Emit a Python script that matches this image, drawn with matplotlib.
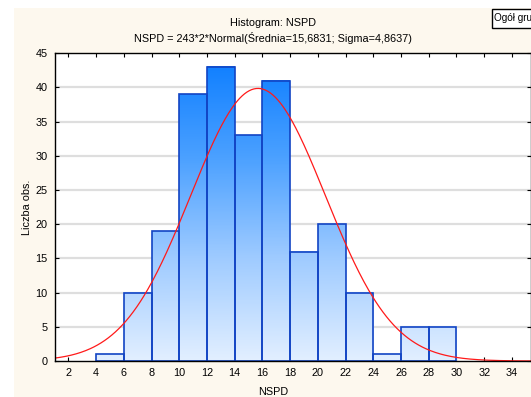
import matplotlib
matplotlib.use("Agg")
import matplotlib.pyplot as plt
import numpy as np
from matplotlib.colors import LinearSegmentedColormap
from matplotlib.patches import Rectangle

# histogram data: NSPD classes (width 2) and counts
bin_edges = [4, 6, 8, 10, 12, 14, 16, 18, 20, 22, 24, 26, 28, 30]
counts = [1, 10, 19, 39, 43, 33, 41, 16, 20, 10, 1, 5, 5]
x_ticks = [2, 4, 6, 8, 10, 12, 14, 16, 18, 20, 22, 24, 26, 28, 30, 32, 34]
y_ticks = [0, 5, 10, 15, 20, 25, 30, 35, 40, 45]

# fitted normal from the title
n_obs = 243
class_width = 2
mean = 15.6831
sigma = 4.8637

W, H = 531, 397
cream = "#fdf8ee"
plt.rcParams['font.family'] = ['Liberation Sans', 'DejaVu Sans']

fig = plt.figure(figsize=(W / 100, H / 100), dpi=100, facecolor="white")
# cream panel (the screenshot has a white margin on the left/top)
fig.patches.append(Rectangle((14 / W, 0), 1, (H - 8) / H, transform=fig.transFigure,
                             facecolor=cream, edgecolor="none", zorder=-10))

left, right = 54.5 / W, 1.0
bottom, top = (H - 361) / H, (H - 53.3) / H
ax = fig.add_axes([left, bottom, right - left, top - bottom])
ax.set_facecolor("white")

xmin, xmax = 1, 1 + (W - 54.5) / 13.86
ymax = 45

# gridlines
for yv in y_ticks[1:-1]:
    ax.axhline(yv, color="#dedede", lw=1.6, zorder=0)

# bars with vertical gradient (colour depends on height in the plot)
cmap = LinearSegmentedColormap.from_list("bl", ["#e2efff", "#9fcbff", "#4aa0ff", "#0a7cff"])
for i, c in enumerate(counts):
    x0, x1 = bin_edges[i], bin_edges[i + 1]
    grad = np.linspace(0, c / ymax, 200).reshape(-1, 1)
    ax.imshow(grad, extent=(x0, x1, 0, c), origin="lower", aspect="auto",
              cmap=cmap, vmin=0, vmax=1, zorder=2, interpolation="bilinear")
    ax.add_patch(Rectangle((x0, 0), x1 - x0, c, facecolor="none",
                           edgecolor="#1244c4", lw=1.2, zorder=3))

# normal curve
xs = np.linspace(xmin, xmax, 400)
ys = n_obs * class_width * np.exp(-0.5 * ((xs - mean) / sigma) ** 2) / (sigma * np.sqrt(2 * np.pi))
ax.plot(xs, ys, color="#ff1a1a", lw=0.9, zorder=4)

ax.set_xlim(xmin, xmax)
ax.set_ylim(0, ymax)
ax.set_xticks(x_ticks)
ax.set_yticks(y_ticks)
ax.tick_params(direction="in", length=3, width=0.8, labelsize=7.8, colors="black",
               top=True, right=True, pad=5)
for s in ax.spines.values():
    s.set_linewidth(1.0)
    s.set_zorder(5)

# axis titles placed where the reference has them
fig.text(273 / W, (H - 392) / H, "NSPD", ha="center", va="center", fontsize=7.8)
fig.text(27 / W, (H - 207) / H, "Liczba obs.", ha="center", va="center",
         rotation=90, fontsize=7.8)

cx = 273 / W
fig.text(cx, (H - 23) / H, "Histogram: NSPD", ha="center", va="center", fontsize=7.8)
fig.text(cx, (H - 38) / H,
         "NSPD = 243*2*Normal(Średnia=15,6831; Sigma=4,8637)",
         ha="center", va="center", fontsize=7.8)

# legend box (cut off at the right edge in the reference)
fig.patches.append(Rectangle((492 / W, (H - 28) / H), 60 / W, 19 / H, transform=fig.transFigure,
                             facecolor="white", edgecolor="black", lw=1.0, zorder=3))
fig.text(494 / W, (H - 18) / H, "Ogół gru", ha="left", va="center", fontsize=7.2, zorder=4)

fig.savefig("out.png", dpi=100, facecolor=fig.get_facecolor())
